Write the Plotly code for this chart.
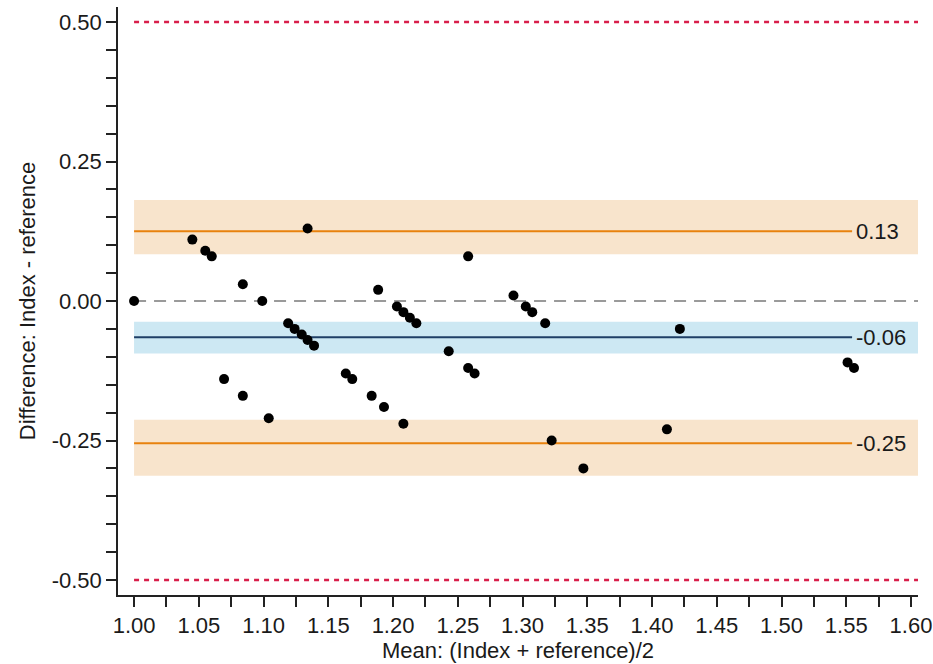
import plotly.graph_objects as go

# ---- data ----
mean_vals = [1.000, 1.045, 1.055, 1.060, 1.0695, 1.084, 1.084, 1.099, 1.104,
             1.119, 1.124, 1.1295, 1.134, 1.139, 1.134, 1.1635, 1.1685, 1.1835,
             1.1885, 1.193, 1.203, 1.208, 1.213, 1.218, 1.208, 1.243, 1.258,
             1.258, 1.263, 1.293, 1.3025, 1.3075, 1.3175, 1.3225, 1.347, 1.4115,
             1.4215, 1.551, 1.556]
diff_vals = [0.00, 0.11, 0.09, 0.08, -0.14, 0.03, -0.17, 0.00, -0.21,
             -0.04, -0.05, -0.06, -0.07, -0.08, 0.13, -0.13, -0.14, -0.17,
             0.02, -0.19, -0.01, -0.02, -0.03, -0.04, -0.22, -0.09, 0.08,
             -0.12, -0.13, 0.01, -0.01, -0.02, -0.04, -0.25, -0.30, -0.23,
             -0.05, -0.11, -0.12]

bias = -0.065
bias_ci = [-0.094, -0.037]
loa_upper = 0.125
loa_upper_ci = [0.084, 0.181]
loa_lower = -0.255
loa_lower_ci = [-0.313, -0.213]
line_labels = ["0.13", "-0.06", "-0.25"]
limit_lines = [0.50, -0.50]

x_ticks = [1.00, 1.05, 1.10, 1.15, 1.20, 1.25, 1.30, 1.35, 1.40, 1.45, 1.50, 1.55, 1.60]
y_ticks = [0.50, 0.25, 0.00, -0.25, -0.50]

x_start, x_line_end, x_band_end = 1.00, 1.5545, 1.6054
x_range = [0.9876, 1.6054]
y_range = [-0.5269, 0.5269]

ORANGE = "#E8820E"
ORANGE_BAND = "#F8E4CC"
BLUE = "#1F3F66"
BLUE_BAND = "#CDE8F3"
RED = "#D81E4A"

fig = go.Figure()

shapes = []
# CI bands
for (lo, hi), col in [(loa_upper_ci, ORANGE_BAND), (bias_ci, BLUE_BAND), (loa_lower_ci, ORANGE_BAND)]:
    shapes.append(dict(type="rect", xref="x", yref="y", x0=x_start, x1=x_band_end,
                       y0=lo, y1=hi, fillcolor=col, line=dict(width=0), layer="below"))
# zero dashed line
shapes.append(dict(type="line", xref="x", yref="y", x0=x_start, x1=x_band_end, y0=0, y1=0,
                   line=dict(color="#9A9A9A", width=2, dash="12px,8px"), layer="below"))
# limit dotted lines
for v in limit_lines:
    shapes.append(dict(type="line", xref="x", yref="y", x0=x_start, x1=x_band_end, y0=v, y1=v,
                       line=dict(color=RED, width=2.5, dash="5px,5px"), layer="below"))
# bias and LoA lines
for v, col in [(loa_upper, ORANGE), (bias, BLUE), (loa_lower, ORANGE)]:
    shapes.append(dict(type="line", xref="x", yref="y", x0=x_start, x1=x_line_end, y0=v, y1=v,
                       line=dict(color=col, width=2), layer="below"))

fig.add_trace(go.Scatter(x=mean_vals, y=diff_vals, mode="markers",
                         marker=dict(color="black", size=10, line=dict(width=0)),
                         showlegend=False, hoverinfo="x+y"))

annotations = []
for v, lab in zip([loa_upper, bias, loa_lower], line_labels):
    annotations.append(dict(x=x_line_end + 0.0015, y=v, xref="x", yref="y", text=lab,
                            showarrow=False, xanchor="left", yanchor="middle",
                            font=dict(size=22, color="#1a1a1a", family="Liberation Sans, Arial, sans-serif")))

fig.update_layout(
    width=933, height=664,
    margin=dict(l=118, r=15, t=7, b=69, autoexpand=False),
    paper_bgcolor="white", plot_bgcolor="white",
    shapes=shapes, annotations=annotations,
    font=dict(family="Liberation Sans, Arial, sans-serif", size=22, color="#1a1a1a"),
    showlegend=False,
)
fig.update_xaxes(range=x_range, tickvals=x_ticks, ticktext=[f"{t:.2f}" for t in x_ticks],
                 automargin=False,
                 showgrid=False, zeroline=False, showline=True, linecolor="#222", linewidth=1.5,
                 ticks="outside", ticklen=10, tickwidth=1.5, tickcolor="#222",
                 minor=dict(dtick=0.025, tick0=1.0, ticks="outside", ticklen=10, tickwidth=1.5, tickcolor="#222", showgrid=False),
                 tickfont=dict(size=22),
                 title=dict(text="Mean: (Index + reference)/2", font=dict(size=22), standoff=4))
fig.update_yaxes(range=y_range, tickvals=y_ticks, ticktext=[f"{t:.2f}" for t in y_ticks],
                 automargin=False,
                 showgrid=False, zeroline=False, showline=True, linecolor="#222", linewidth=1.5,
                 ticks="outside", ticklen=10, tickwidth=1.5, tickcolor="#222",
                 minor=dict(dtick=0.05, tick0=0.0, ticks="outside", ticklen=10, tickwidth=1.5, tickcolor="#222", showgrid=False),
                 tickfont=dict(size=22),
                 title=dict(text="Difference: Index - reference", font=dict(size=22), standoff=10))

fig.write_html("out.html")
